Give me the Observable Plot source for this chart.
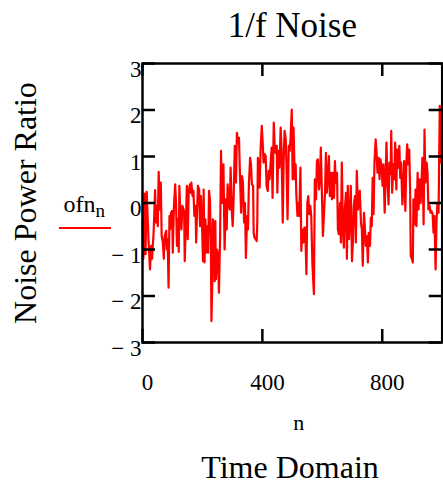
<!DOCTYPE html>
<html><head><meta charset="utf-8">
<script src="https://cdn.jsdelivr.net/npm/d3@7"></script>
<script src="https://cdn.jsdelivr.net/npm/@observablehq/plot@0.6"></script>
<style>
body{margin:0;background:#fff;}
#wrap{position:relative;width:443px;height:485px;overflow:hidden;background:#fff;}
#wrap svg{position:absolute;left:0;top:0;display:block;}
#legendLine{position:absolute;left:59px;top:227px;width:52px;height:2px;background:#ff0000;}
</style></head><body><div id="wrap"></div>
<script>
const titleText = "1/f Noise";
const yLabel = "Noise Power Ratio";
const xLabel = "n";
const captionText = "Time Domain";
const seriesName = "ofn";
const seriesSub = "n";
const xTicks = [0, 400, 800];
const yTicks = [-3, -2, -1, 0, 1, 2, 3];

const nValues = [
0,3,7,10,14,20,25,29,32,37,40,42,45,49,51,54,58,61,64,68,71,74,79,81,84,87,90,92,95,99,101,105,109,112,115,118,121,123,127,130,133,137,139,141,144,148,151,154,158,161,163,167,170,173,177,179,182,185,189,192,195,199,202,204,
207,210,212,215,219,222,225,228,230,233,235,239,241,243,245,249,252,255,259,262,265,270,274,278,281,284,288,291,294,298,301,304,308,310,312,315,319,322,325,329,332,335,339,342,345,349,352,355,359,362,365,369,371,374,378,381,383,385,388,391,394,398,401,
404,408,411,414,418,421,424,428,431,434,438,441,444,448,450,453,457,461,464,468,471,474,478,481,484,488,491,494,498,501,504,508,511,513,517,520,523,527,530,533,537,540,543,547,550,553,557,560,563,567,570,572,575,579,582,585,589,592,595,599,602,
609,612,615,619,622,625,629,632,635,639,642,645,649,652,655,659,662,665,669,672,675,679,682,685,689,692,695,699,702,705,709,712,715,719,722,725,729,732,735,739,742,745,749,752,755,759,762,765,768,771,774,778,781,784,788,791,794,798,801,804,
808,811,814,818,821,824,828,830,833,837,840,843,847,850,853,857,860,863,867,870,873,877,880,883,887,890,893,895,899,902,904,908,911,914,918,921,924,928,931,934,938,941,944,948,951,954,958,961,964,968,971,974,978,981,984,988,990,992,995,999
];
const ofnValues = [
-0.4,-1.2,0.2,-1.1,0.24,-0.78,-1.43,-0.92,-1.2,-0.64,-0.1,0.28,-0.42,-0.06,-0.5,0.67,-0.14,0.44,-0.71,-0.85,-1.2,-0.71,-0.6,-1.0,-0.78,-1.82,-0.28,-0.57,-0.21,-0.17,-1.07,-0.06,0.4,-0.03,-0.92,-0.35,-1.05,0.37,-0.42,-0.57,-0.06,-0.14,-0.21,-1.25,-0.57,0.37,-0.78,0.22,0.4,0.22,0.44,0.15,0.26,-0.28,-0.06,-0.85,-0.21,0.37,0.29,-0.5,0.15,-0.57,-1.25,0.29,
-1.28,-0.35,-1.07,-0.5,-1.07,0.26,0.08,-0.78,-2.54,-1.71,-0.35,-0.85,-1.68,-0.39,-1.64,-1.0,-1.14,-1.93,-0.71,1.12,0.0,0.83,-1.0,0.08,-0.57,0.4,0,-0.14,0.76,-0.17,-0.5,0.08,1.23,1.12,0.44,1.51,1.3,1.4,0.65,-0.21,0.58,0.44,-0.42,0,-1.18,-0.28,-0.57,0.4,0.97,0.83,0.4,0.37,-0.64,-0.75,-0.78,-0.82,-0.42,0.97,0.76,0.33,1.15,1.66,1.3,
0.87,1.05,1.01,0.37,0.26,0.69,0.51,0.9,1.19,0.11,1.73,1.23,1.08,1.23,0.22,1.12,0.76,1.62,1.15,-0.42,0.9,1.55,1.37,0.65,-0.35,1.23,1.12,1.4,2.01,0.51,1.62,0.51,0.83,0.22,-0.28,0,-0.28,0.76,-1.03,-0.57,-0.85,-0.53,-0.53,-1.53,0,0.15,-0.24,-0.06,-0.28,-1.32,-1.71,-1.96,0.51,0.08,0.9,0.94,0.29,0.51,1.19,0.11,-0.71,
0.22,1.08,0.22,0.58,1.01,0.15,0.65,0.08,0.65,0.11,0.9,0.44,0.65,-0.57,-0.67,0,-0.85,0.87,-0.64,-0.96,-0.14,0.22,-1.2,0.37,-0.78,-0.28,0.37,-1.25,-0.85,-0.06,0.15,-0.85,0.69,-0.14,0,0.26,-0.42,-0.57,-1.35,-0.21,-0.53,-0.92,-0.71,-1.28,-0.64,-0.92,-0.32,-0.5,0.54,-0.24,0.87,1.37,1.08,0.65,0.97,0.51,0.94,0.76,0.37,0.83,
-0.21,0.51,1.3,0.37,-0.03,0.87,0.62,1.55,0.22,0.83,0.51,1.3,0.29,1.15,0.76,1.23,0.54,0.87,-0.03,0.29,0.9,-0.17,0.76,1.26,0.83,1.15,0.29,-1.14,-1.2,-1.28,0.08,-0.46,0.29,-0.5,0.65,-0.14,0.51,0,0.44,0.97,-0.46,1.58,0.44,0.87,0.65,-0.14,-0.06,-0.21,-0.17,-0.24,-0.64,-0.28,-1.43,-0.42,0,-0.21,1.05,2.09,0.87,1.44
];

const data = nValues.map((n, i) => ({n, v: ofnValues[i]}));

const W = 443, H = 485;
const mL = 142, mR = 1.3, mT = 63, mB = 143;
const frameW = W - mL - mR;
const frameH = H - mT - mB;
const serif = "'Liberation Serif', 'Times New Roman', serif";
const tickLen = 13;
const fmtY = d => d < 0 ? "\u2212 " + Math.abs(d) : String(d);

const chart = Plot.plot({
  width: W, height: H,
  marginLeft: mL, marginRight: mR, marginTop: mT, marginBottom: mB,
  x: {domain: [0, 1000]},
  y: {domain: [-3, 3]},
  style: {fontFamily: serif, background: "white", color: "black", fontSize: "23px"},
  marks: [
    Plot.line(data, {x: "n", y: "v", stroke: "#ff0000", strokeWidth: 2.2}),
    Plot.tickY(yTicks, {y: d => d, insetRight: frameW - tickLen, stroke: "black", strokeWidth: 2.5}),
    Plot.tickY(yTicks, {y: d => d, insetLeft: frameW - tickLen, stroke: "black", strokeWidth: 2.5}),
    Plot.tickX(xTicks, {x: d => d, insetTop: frameH - tickLen, stroke: "black", strokeWidth: 2.5}),
    Plot.tickX(xTicks, {x: d => d, insetBottom: frameH - tickLen, stroke: "black", strokeWidth: 2.5}),
    Plot.frame({stroke: "black", strokeWidth: 2.5}),
    Plot.axisX(xTicks, {tickSize: 0, tickPadding: 31, fontSize: 23, dx: 5, label: null, fontFamily: serif}),
    Plot.axisY(yTicks, {tickSize: 0, tickPadding: 1, fontSize: 23, dy: 6, label: null, tickFormat: fmtY, fontFamily: serif}),
    Plot.text([titleText], {text: d => d, frameAnchor: "top", lineAnchor: "middle", textAnchor: "middle", dy: -38, fontSize: 35, fontFamily: serif}),
    Plot.text([yLabel], {text: d => d, frameAnchor: "left", lineAnchor: "middle", textAnchor: "middle", dx: -117, rotate: -90, fontSize: 32, fontFamily: serif}),
    Plot.text([xLabel], {text: d => d, frameAnchor: "bottom", lineAnchor: "middle", textAnchor: "middle", dy: 80, dx: 6.5, fontSize: 22, fontFamily: serif}),
    Plot.text([captionText], {text: d => d, frameAnchor: "bottom", lineAnchor: "middle", textAnchor: "middle", dy: 125, dx: -2.3, fontSize: 32, fontFamily: serif}),
    Plot.text([seriesName], {text: d => d, frameAnchor: "left", lineAnchor: "middle", dx: -79, dy: 1.3, textAnchor: "start", fontSize: 24, fontFamily: serif}),
    Plot.text([seriesSub], {text: d => d, frameAnchor: "left", lineAnchor: "middle", dx: -47, dy: 7.5, textAnchor: "start", fontSize: 19, fontFamily: serif})
  ]
});
const wrap = document.getElementById("wrap");
wrap.appendChild(chart);
const ll = document.createElement("div");
ll.id = "legendLine";
wrap.appendChild(ll);
</script>
</body></html>
